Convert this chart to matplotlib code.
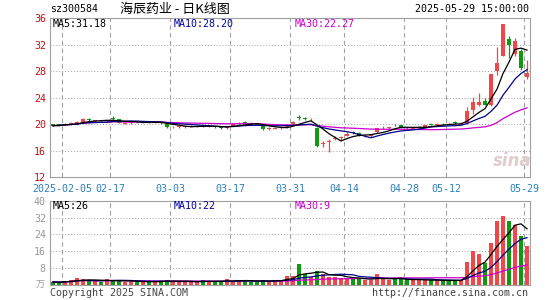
import matplotlib
matplotlib.use("Agg")
import matplotlib.pyplot as plt
import numpy as np
import pandas as pd

# ---------------- data ----------------
holidays = ["2025-01-28", "2025-01-29", "2025-01-30", "2025-01-31", "2025-02-03",
            "2025-02-04", "2025-04-04", "2025-05-01", "2025-05-02", "2025-05-05"]
dates = [d for d in pd.bdate_range("2025-01-24", "2025-05-29").strftime("%Y-%m-%d")
         if d not in holidays]

open_ = [20.0, 20.0, 19.9, 20.05, 20.1, 20.4, 20.85, 20.5, 20.55, 20.45,
         20.9, 20.75, 20.1, 20.2, 20.35, 20.3, 20.35, 20.25, 20.3, 20.1,
         19.55, 19.6, 19.6, 19.6, 19.7, 19.75, 19.7, 19.75, 19.6, 19.45,
         19.6, 20.0, 20.3, 20.2, 20.05, 19.75, 19.3, 19.35, 19.4, 19.6,
         20.0, 21.0, 20.85, 20.6, 19.5, 17.0, 17.3, 17.8, 17.9, 18.3,
         18.8, 18.75, 18.2, 18.25, 18.8, 19.4, 19.45, 19.9, 19.85, 19.5,
         19.35, 19.45, 19.5, 20.0, 19.95, 20.05, 20.05, 20.35, 20.05, 20.25,
         22.22, 22.86, 23.56, 22.9, 28.0, 30.37, 32.93, 30.6, 31.1, 27.2]
close = [19.8, 19.85, 20.1, 20.15, 20.3, 20.85, 20.6, 20.55, 20.45, 20.55,
         20.85, 20.2, 20.2, 20.35, 20.3, 20.35, 20.3, 20.3, 20.2, 19.55,
         19.6, 19.65, 19.65, 19.7, 19.75, 19.7, 19.75, 19.6, 19.5, 19.55,
         20.0, 20.25, 20.2, 20.1, 19.95, 19.3, 19.4, 19.45, 19.5, 19.85,
         20.3, 20.95, 20.8, 20.7, 16.8, 17.15, 17.45, 18.0, 18.05, 18.55,
         18.7, 18.3, 18.3, 18.35, 19.4, 19.5, 19.5, 19.85, 19.5, 19.4,
         19.45, 19.55, 19.85, 19.95, 20.05, 20.0, 20.0, 20.15, 20.15, 21.97,
         23.36, 23.36, 22.96, 27.55, 29.29, 35.15, 31.96, 32.6, 28.5, 27.8]
high = [20.1, 20.1, 20.25, 20.3, 20.5, 20.95, 20.95, 20.7, 20.6, 20.7,
        21.2, 20.85, 20.35, 20.5, 20.5, 20.45, 20.4, 20.4, 20.35, 20.15,
        19.8, 19.8, 19.75, 19.85, 19.85, 19.85, 19.9, 19.8, 19.65, 19.7,
        20.1, 20.35, 20.45, 20.3, 20.15, 19.8, 19.55, 19.6, 19.65, 20.0,
        20.45, 21.4, 21.1, 20.9, 19.6, 17.5, 17.8, 18.2, 18.3, 18.8,
        19.0, 18.8, 18.45, 18.5, 19.5, 19.7, 19.65, 20.1, 19.9, 19.6,
        19.6, 19.7, 19.95, 20.2, 20.2, 20.15, 20.2, 20.45, 20.3, 22.56,
        24.19, 24.7, 24.04, 27.6, 31.6, 35.2, 33.33, 33.08, 31.36, 29.78]
low = [19.7, 19.7, 19.85, 19.95, 20.0, 20.3, 20.5, 20.4, 20.35, 20.4,
       20.7, 20.15, 20.0, 20.1, 20.2, 20.2, 20.2, 20.15, 20.1, 19.45,
       19.45, 19.5, 19.5, 19.55, 19.6, 19.6, 19.6, 19.5, 19.35, 19.35,
       19.55, 19.95, 20.1, 20.0, 19.85, 19.2, 19.2, 19.25, 19.3, 19.5,
       19.9, 20.7, 20.6, 20.5, 16.6, 16.5, 15.8, 17.6, 17.7, 18.2,
       18.5, 18.2, 18.1, 18.15, 18.7, 19.3, 19.35, 19.7, 19.45, 19.3,
       19.3, 19.35, 19.45, 19.85, 19.9, 19.9, 19.9, 20.05, 19.95, 20.1,
       21.48, 22.7, 22.86, 22.8, 27.4, 30.3, 29.97, 30.37, 28.15, 26.9]
volume = [1.2, 1.0, 1.6, 2.0, 3.0, 2.6, 1.8, 1.5, 1.4, 2.6,
          1.9, 1.6, 1.3, 1.5, 1.3, 1.4, 1.2, 1.3, 1.8, 2.2,
          1.4, 1.2, 1.3, 1.4, 1.3, 2.0, 1.4, 1.3, 1.5, 2.4,
          1.6, 2.3, 1.6, 1.4, 1.3, 2.0, 1.6, 2.1, 2.0, 4.3,
          4.3, 10.0, 4.8, 3.7, 6.6, 4.8, 3.7, 3.7, 3.2, 3.2,
          2.7, 2.7, 2.1, 2.1, 4.8, 2.7, 2.1, 2.7, 2.7, 2.1,
          2.1, 2.1, 2.1, 2.1, 2.1, 1.7, 1.7, 2.1, 2.1, 10.9,
          16.0, 14.6, 10.1, 20.0, 30.4, 32.8, 30.4, 28.5, 23.2, 18.4]

tick_dates = ["2025-02-05", "2025-02-17", "2025-03-03", "2025-03-17", "2025-03-31",
              "2025-04-14", "2025-04-28", "2025-05-12", "2025-05-29"]
tick_labels = ["2025-02-05", "02-17", "03-03", "03-17", "03-31",
               "04-14", "04-28", "05-12", "05-29"]
price_ticks = [12, 16, 20, 24, 28, 32, 36]
vol_ticks = [8, 16, 24, 32, 40]

# ---------------- style ----------------
UP = "#f04848"
DOWN = "#119911"
C_MA5, C_MA10, C_MA30 = "#000000", "#00008b", "#cc00cc"
GRID = "#a0a0a0"
FRAME = "#a0a0a0"
MONO = "DejaVu Sans Mono"
FS = 7.2

W, H = 545, 300
fx = lambda x: x / W
fy = lambda y: 1 - y / H

fig = plt.figure(figsize=(W / 100, H / 100), dpi=100)
fig.patch.set_facecolor("white")

n = len(close)
x = np.arange(n)
o = np.array(open_); c = np.array(close); hi = np.array(high); lo = np.array(low)
v = np.array(volume)
up = c >= o
cols = np.where(up, UP, DOWN)
tick_pos = [dates.index(d) - 0.5 for d in tick_dates]

def ma(arr, k):
    return pd.Series(arr).rolling(k, min_periods=1).mean().values

# price axes
top_p, bot_p = 18.3, 177.3
ax = fig.add_axes([fx(50), fy(bot_p), fx(480), (bot_p - top_p) / H])
ax.set_xlim(-0.5, n - 0.5)
ax.set_ylim(12, 36)
for yv in price_ticks[1:-1]:
    ax.axhline(yv, color=GRID, lw=0.7, ls=(0, (1, 2)), zorder=0)
for tp in tick_pos:
    ax.axvline(tp, color=GRID, lw=0.8, ls=(0, (4, 3)), zorder=0)
ax.vlines(x, lo, hi, colors=cols, lw=0.9, zorder=2)
body_h = np.maximum(np.abs(c - o), 0.08)
ax.bar(x, body_h, bottom=np.minimum(o, c), width=0.72, color=cols, lw=0, zorder=3)
ax.plot(x, ma(c, 30), color=C_MA30, lw=0.9, zorder=4)
ax.plot(x, ma(c, 10), color=C_MA10, lw=0.9, zorder=5)
ax.plot(x, ma(c, 5), color=C_MA5, lw=0.9, zorder=6)
ax.set_yticks(price_ticks)
ax.set_yticklabels([str(t) for t in price_ticks], color="#bb1111",
                   fontfamily=MONO, fontsize=FS)
ax.set_xticks(tick_pos)
ax.set_xticklabels(tick_labels, color="#2a7fb8", fontfamily=MONO, fontsize=FS)
ax.tick_params(axis="y", length=0, pad=3)
ax.tick_params(axis="x", length=0, pad=5)
for s in ax.spines.values():
    s.set_color(FRAME); s.set_linewidth(0.8)

# watermark
fig.text(fx(512), fy(161), "sina", color="#dcc8c8", fontsize=12, fontstyle="italic",
         fontweight="bold", ha="center", va="center", alpha=0.9)

# volume axes
top_v, bot_v = 201.0, 284.5
axv = fig.add_axes([fx(50), fy(bot_v), fx(480), (bot_v - top_v) / H])
axv.set_xlim(-0.5, n - 0.5)
axv.set_ylim(0, 40)
for yv in vol_ticks[:-1]:
    axv.axhline(yv, color=GRID, lw=0.7, ls=(0, (1, 2)), zorder=0)
for tp in tick_pos:
    axv.axvline(tp, color=GRID, lw=0.8, ls=(0, (4, 3)), zorder=0)
axv.bar(x, v, width=0.78, color=cols, lw=0, zorder=2)
axv.plot(x, ma(v, 30), color=C_MA30, lw=0.9, zorder=4)
axv.plot(x, ma(v, 10), color=C_MA10, lw=0.9, zorder=5)
axv.plot(x, ma(v, 5), color=C_MA5, lw=0.9, zorder=6)
axv.set_yticks(vol_ticks)
axv.set_yticklabels([str(t) for t in vol_ticks], color="#999999",
                    fontfamily=MONO, fontsize=FS)
axv.set_xticks([])
axv.tick_params(length=0, pad=3)
for s in axv.spines.values():
    s.set_color(FRAME); s.set_linewidth(0.8)

# texts
fig.text(fx(50), fy(9), "sz300584", fontfamily=MONO, fontsize=FS, ha="left", va="center")
fig.text(fx(120), fy(9), "海辰药业 - 日K线图", fontfamily=["Noto Sans CJK SC", "DejaVu Sans"],
         fontsize=9.4, ha="left", va="center")
fig.text(fx(529), fy(9), "2025-05-29 15:00:00", fontfamily=MONO, fontsize=FS,
         ha="right", va="center")
fig.text(fx(53), fy(24), "MA5:31.18", color=C_MA5, fontfamily=MONO, fontsize=FS, va="center")
fig.text(fx(174), fy(24), "MA10:28.20", color="#0000a0", fontfamily=MONO, fontsize=FS, va="center")
fig.text(fx(295), fy(24), "MA30:22.27", color=C_MA30, fontfamily=MONO, fontsize=FS, va="center")
fig.text(fx(53), fy(206), "MA5:26", color=C_MA5, fontfamily=MONO, fontsize=FS, va="center")
fig.text(fx(174), fy(206), "MA10:22", color="#0000a0", fontfamily=MONO, fontsize=FS, va="center")
fig.text(fx(295), fy(206), "MA30:9", color=C_MA30, fontfamily=MONO, fontsize=FS, va="center")
fig.text(fx(45), fy(285), "万", color="#999999", fontfamily=["Noto Sans CJK SC", "DejaVu Sans"],
         fontsize=6.5, ha="right", va="center")
fig.text(fx(50), fy(292.5), "Copyright 2025 SINA.COM", color="#444444", fontfamily=MONO,
         fontsize=FS, ha="left", va="center")
fig.text(fx(528), fy(292.5), "http://finance.sina.com.cn", color="#444444", fontfamily=MONO,
         fontsize=FS, ha="right", va="center")

fig.savefig("out.png", dpi=100, facecolor="white")
